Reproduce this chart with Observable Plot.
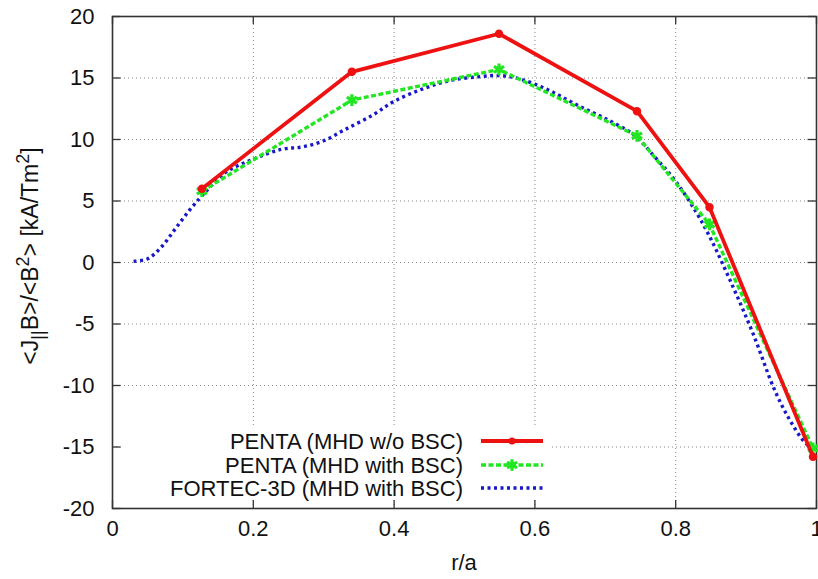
<!DOCTYPE html>
<html>
<head>
<meta charset="utf-8">
<script src="https://cdn.jsdelivr.net/npm/d3@7"></script>
<script src="https://cdn.jsdelivr.net/npm/@observablehq/plot@0.6"></script>
<style>
html, body { margin: 0; padding: 0; background: #fff; overflow: hidden; }
#chart { position: relative; width: 818px; height: 579px; }
svg { font-family: "Liberation Sans", Arial, sans-serif; }
</style>
</head>
<body>
<div id="chart"></div>
<script>
// Tick values
const xTicks = [0, 0.2, 0.4, 0.6, 0.8, 1];
const yTicks = [-20, -15, -10, -5, 0, 5, 10, 15, 20];

// Series names
const seriesNames = ["PENTA (MHD w/o BSC)", "PENTA (MHD with BSC)", "FORTEC-3D (MHD with BSC)"];

// PENTA (MHD w/o BSC)
const pentaNoBscX = [0.127, 0.340, 0.549, 0.745, 0.848, 0.995];
const pentaNoBscY = [6.0, 15.5, 18.6, 12.3, 4.5, -15.8];

// PENTA (MHD with BSC)
const pentaBscX = [0.127, 0.340, 0.549, 0.745, 0.848, 0.995];
const pentaBscY = [5.8, 13.2, 15.7, 10.3, 3.1, -15.1];

// FORTEC-3D (MHD with BSC)
const fortecX = [0.03, 0.05, 0.07, 0.09, 0.11, 0.13, 0.16, 0.20, 0.24, 0.27, 0.30, 0.33, 0.37, 0.40, 0.44, 0.48, 0.52, 0.55, 0.58, 0.62, 0.66, 0.70, 0.74, 0.77, 0.80, 0.83, 0.85, 0.88, 0.91, 0.94, 0.96, 0.98, 0.99];
const fortecY = [0.1, 0.3, 1.3, 2.8, 4.3, 5.6, 7.3, 8.4, 9.2, 9.4, 9.9, 10.8, 12.0, 13.1, 14.1, 14.8, 15.1, 15.2, 14.9, 14.0, 12.8, 11.7, 10.4, 8.6, 6.6, 4.0, 1.9, -1.8, -5.8, -10.3, -12.6, -14.4, -15.0];

const colors = ["#ee1111", "#22e622", "#1818c8"];
const dashes = [null, "5,2.5", "3,3.5"];

const toRows = (xs, ys) => xs.map((x, i) => ({x, y: ys[i]}));
const s1 = toRows(pentaNoBscX, pentaNoBscY);
const s2 = toRows(pentaBscX, pentaBscY);
const s3 = toRows(fortecX, fortecY);

const font = "22px";
const labelFont = "23px";
const small = "18px";

const chart = Plot.plot({
  width: 818,
  height: 579,
  marginLeft: 112,
  marginRight: 2,
  marginTop: 16,
  marginBottom: 71,
  style: {fontSize: font, fontFamily: '"Liberation Sans", Arial, sans-serif', color: "#111", background: "#fff"},
  x: {domain: [0, 1], ticks: xTicks},
  y: {domain: [-20, 20], ticks: yTicks},
  marks: [
    Plot.gridX(xTicks, {stroke: "#888", strokeOpacity: 1, strokeWidth: 1, strokeDasharray: "1,3"}),
    Plot.gridY(yTicks, {stroke: "#888", strokeOpacity: 1, strokeWidth: 1, strokeDasharray: "1,3"}),
    // inward ticks on all four sides
    Plot.ruleY(yTicks, {y: d => d, x1: 0, x2: 0.012, stroke: "#333", strokeWidth: 1.3}),
    Plot.ruleY(yTicks, {y: d => d, x1: 0.988, x2: 1, stroke: "#333", strokeWidth: 1.3}),
    Plot.ruleX(xTicks, {x: d => d, y1: -20, y2: -19.35, stroke: "#333", strokeWidth: 1.3}),
    Plot.ruleX(xTicks, {x: d => d, y1: 19.35, y2: 20, stroke: "#333", strokeWidth: 1.3}),
    Plot.axisX(xTicks, {tickSize: 0, tickPadding: 12, label: null, tickFormat: d => String(d), fontSize: font}),
    Plot.axisY(yTicks, {tickSize: 0, tickPadding: 18, label: null, tickFormat: d => String(d), fontSize: font}),
    Plot.frame({stroke: "#333", strokeWidth: 1.6}),
    // series
    Plot.line(s3, {x: "x", y: "y", stroke: colors[2], strokeWidth: 3.4, strokeDasharray: dashes[2], strokeLinecap: "butt", curve: "catmull-rom"}),
    Plot.line(s2, {x: "x", y: "y", stroke: colors[1], strokeWidth: 3.4, strokeDasharray: dashes[1], strokeLinecap: "butt"}),
    Plot.dot(s2, {x: "x", y: "y", stroke: colors[1], fill: colors[1], strokeWidth: 3.2, r: 5.5, symbol: "asterisk"}),
    Plot.line(s1, {x: "x", y: "y", stroke: colors[0], strokeWidth: 3.8}),
    Plot.dot(s1, {x: "x", y: "y", fill: colors[0], stroke: colors[0], r: 3.5})
  ]
});

document.getElementById("chart").appendChild(chart);

const svg = d3.select(chart);

// Legend (gnuplot-style, inside plot, bottom left)
const lg = svg.append("g").attr("class", "legend");
lg.append("rect").attr("x", 122).attr("y", 425).attr("width", 428).attr("height", 74).attr("fill", "#fff");
const rowY = [441, 465, 488];
seriesNames.forEach((name, i) => {
  lg.append("text")
    .attr("x", 463).attr("y", rowY[i]).attr("dy", "0.36em")
    .attr("text-anchor", "end")
    .attr("font-size", font)
    .attr("fill", "#111")
    .text(name);
  const ln = lg.append("line")
    .attr("x1", 481).attr("x2", 543).attr("y1", rowY[i]).attr("y2", rowY[i])
    .attr("stroke", colors[i]).attr("stroke-width", i === 0 ? 3.8 : 3.4)
    .attr("stroke-linecap", "butt");
  if (dashes[i]) ln.attr("stroke-dasharray", dashes[i]);
});
lg.append("circle").attr("cx", 512).attr("cy", rowY[0]).attr("r", 3.5).attr("fill", colors[0]);
lg.append("path").attr("transform", `translate(512,${rowY[1]})`)
  .attr("d", d3.symbol(d3.symbolAsterisk, Math.PI * 30)())
  .attr("stroke", colors[1]).attr("stroke-width", 3.2).attr("fill", colors[1]);

// Axis labels
svg.append("text")
  .attr("x", 464).attr("y", 570)
  .attr("text-anchor", "middle")
  .attr("font-size", font).attr("fill", "#111")
  .text("r/a");

const yl = svg.append("text")
  .attr("transform", "translate(38,256) rotate(-90)")
  .attr("text-anchor", "middle")
  .attr("font-size", labelFont).attr("fill", "#111");
yl.append("tspan").text("<J");
yl.append("tspan").attr("font-size", small).attr("dy", "6").text("||");
yl.append("tspan").attr("dy", "-6").text("B>/<B");
yl.append("tspan").attr("font-size", small).attr("dy", "-9").text("2");
yl.append("tspan").attr("dy", "9").text("> [kA/Tm");
yl.append("tspan").attr("font-size", small).attr("dy", "-9").text("2");
yl.append("tspan").attr("dy", "9").text("]");
</script>
</body>
</html>
